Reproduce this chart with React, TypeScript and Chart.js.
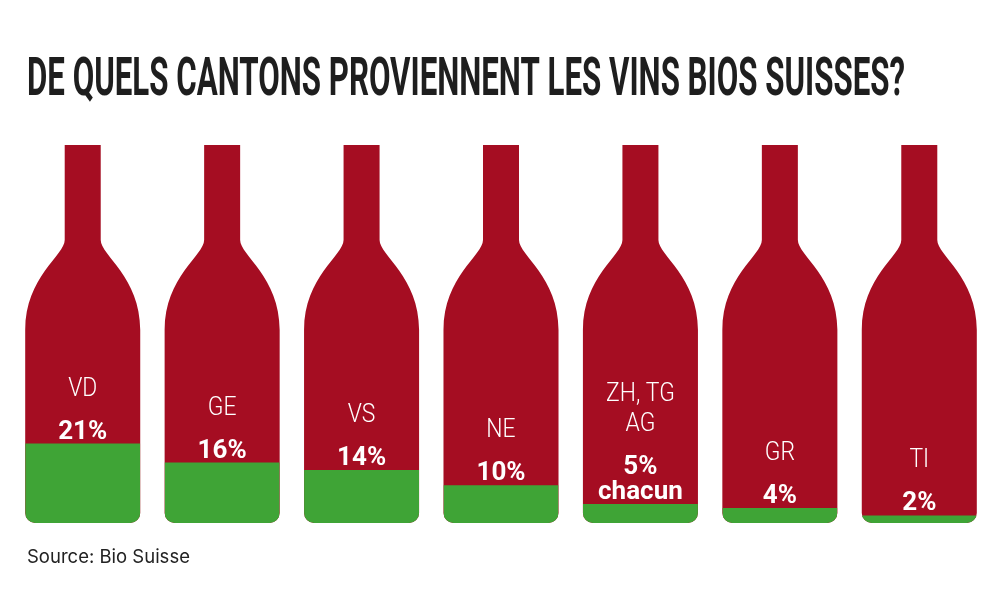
import React, { useEffect, useRef } from 'react';
import { Chart, registerables } from 'chart.js';

Chart.register(...registerables);

const TITLE = 'DE QUELS CANTONS PROVIENNENT LES VINS BIOS SUISSES?';
const SOURCE = 'Source: Bio Suisse';

const cantons: (string | string[])[] = ['VD', 'GE', 'VS', 'NE', ['ZH, TG', 'AG'], 'GR', 'TI'];
const shares = [21, 16, 14, 10, 5, 4, 2];
const shareLabels: (string | string[])[] = ['21%', '16%', '14%', '10%', ['5%', 'chacun'], '4%', '2%'];
const FULL_BOTTLE = 100;

const RED = '#a50d22';
const GREEN = '#3fa436';
const INK = '#1e1e1e';

function addBottle(p: Path2D, cx: number, w: number, top: number, bottom: number) {
  const H = bottom - top;
  const bl = cx - w / 2;
  const br = cx + w / 2;
  const nw = w * 0.313;
  const nl = cx - nw / 2;
  const nr = cx + nw / 2;
  const ne = top + H * 0.251;
  const c1 = ne + H * 0.04;
  const c2 = ne + H * 0.098;
  const se = ne + H * 0.238;
  const r = 10;
  p.moveTo(nl, top);
  p.lineTo(nr, top);
  p.lineTo(nr, ne);
  p.bezierCurveTo(nr, c1, br, c2, br, se);
  p.lineTo(br, bottom - r);
  p.arcTo(br, bottom, br - r, bottom, r);
  p.lineTo(bl + r, bottom);
  p.arcTo(bl, bottom, bl, bottom - r, r);
  p.lineTo(bl, se);
  p.bezierCurveTo(bl, c2, nl, c1, nl, ne);
  p.closePath();
}

const bottlePlugin = {
  id: 'bottles',
  beforeDatasetsDraw(chart: any) {
    const ctx: CanvasRenderingContext2D = chart.ctx;
    const meta = chart.getDatasetMeta(0);
    const y = chart.scales.y;
    const top = y.getPixelForValue(FULL_BOTTLE);
    const bottom = y.getPixelForValue(0);
    const path = new Path2D();
    meta.data.forEach((bar: any) => addBottle(path, bar.x, bar.width, top, bottom));
    ctx.save();
    ctx.fillStyle = RED;
    ctx.fill(path);
    ctx.restore();
    ctx.save();
    ctx.clip(path);
  },
  afterDatasetsDraw(chart: any) {
    const ctx: CanvasRenderingContext2D = chart.ctx;
    ctx.restore();
    const meta = chart.getDatasetMeta(0);
    const labels = chart.data.labels as (string | string[])[];
    meta.data.forEach((bar: any, i: number) => {
      const pct = shareLabels[i];
      const pctLines = Array.isArray(pct) ? pct : [pct];
      const cat = labels[i];
      const catLines = Array.isArray(cat) ? cat : [cat];
      ctx.save();
      ctx.fillStyle = '#ffffff';
      ctx.textAlign = 'center';
      ctx.textBaseline = 'alphabetic';
      ctx.font = 'bold 26px Roboto, "Open Sans", sans-serif';
      let base = bar.y - 5;
      for (let k = pctLines.length - 1; k >= 0; k--) {
        ctx.fillText(pctLines[k], bar.x, base);
        if (k > 0) base -= 25;
      }
      let cbase = base - 43;
      ctx.font = '300 26px Roboto, sans-serif';
      for (let k = catLines.length - 1; k >= 0; k--) {
        ctx.save();
        ctx.translate(bar.x, cbase);
        ctx.scale(0.88, 1);
        ctx.fillText(catLines[k], 0, 0);
        ctx.restore();
        cbase -= 30;
      }
      ctx.restore();
    });
  },
  afterDraw(chart: any) {
    const ctx: CanvasRenderingContext2D = chart.ctx;
    ctx.save();
    ctx.fillStyle = INK;
    ctx.textAlign = 'left';
    ctx.textBaseline = 'alphabetic';
    ctx.font = '700 53px Roboto, sans-serif';
    const w = ctx.measureText(TITLE).width;
    const target = 878;
    ctx.translate(27, 95);
    ctx.scale(target / w, 1);
    ctx.fillText(TITLE, 0, 0);
    ctx.restore();

    ctx.save();
    ctx.fillStyle = '#222222';
    ctx.font = '400 18.5px Inter, sans-serif';
    ctx.textAlign = 'left';
    ctx.fillText(SOURCE, 27, 563);
    ctx.restore();
  },
};

export default function App() {
  const ref = useRef<HTMLCanvasElement | null>(null);
  useEffect(() => {
    if (!ref.current) return;
    const chart = new Chart(ref.current, {
      type: 'bar',
      data: {
        labels: cantons as any,
        datasets: [
          {
            data: shares,
            backgroundColor: GREEN,
            borderWidth: 0,
            barPercentage: 0.825,
            categoryPercentage: 1,
          },
        ],
      },
      options: {
        animation: false,
        responsive: true,
        maintainAspectRatio: false,
        layout: { padding: { top: 145, bottom: 77, left: 13, right: 11 } },
        plugins: {
          legend: { display: false },
          tooltip: { enabled: false },
          title: { display: false },
        },
        scales: {
          x: { display: false },
          y: { display: false, min: 0, max: FULL_BOTTLE },
        },
      },
      plugins: [bottlePlugin],
    });
    return () => chart.destroy();
  }, []);
  return (
    <div style={{ position: 'fixed', left: 0, top: 0, width: 1000, height: 600, background: '#ffffff' }}>
      <canvas ref={ref} />
    </div>
  );
}
